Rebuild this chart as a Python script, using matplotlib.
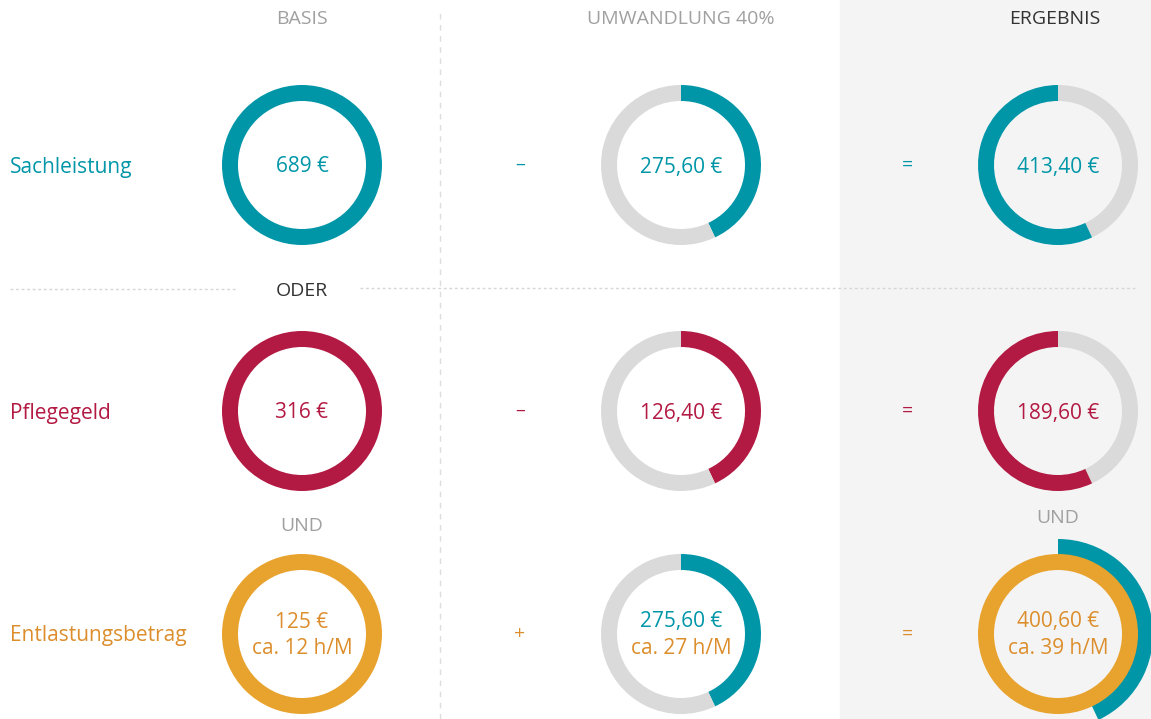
import matplotlib
matplotlib.use("Agg")
import matplotlib.pyplot as plt
from matplotlib.patches import Rectangle

# --- data ---------------------------------------------------------------
row_labels = ["Sachleistung", "Pflegegeld", "Entlastungsbetrag"]
col_headers = ["BASIS", "UMWANDLUNG 40%", "ERGEBNIS"]
basis_text = ["689 €", "316 €", "125 €"]
umwandlung_text = ["275,60 €", "126,40 €", "275,60 €"]
ergebnis_text = ["413,40 €", "189,60 €", "400,60 €"]
hours_text = ["ca. 12 h/M", "ca. 27 h/M", "ca. 39 h/M"]
operators = ["–", "–", "+"]
# share of the ring drawn as "converted" (as it appears in the chart)
converted_share = [0.43, 0.43, 0.43]

TEAL = "#0096A8"
RED = "#B31A43"
ORANGE = "#E8A32E"
ORANGE_TXT = "#DC8E2C"
RING_GRAY = "#DADADA"
row_colors = [TEAL, RED, ORANGE]
text_colors = [TEAL, RED, ORANGE_TXT]

plt.rcParams["font.family"] = ["Open Sans", "DejaVu Sans"]

W, H = 1151, 719
fig = plt.figure(figsize=(W / 100, H / 100), dpi=100)
ax = fig.add_axes([0, 0, 1, 1])

col_x = [302, 681, 1058]
row_y = [H - 165, H - 411, H - 634]
R, RW = 80, 16
VAL_FS = 15
HEAD_FS = 14
DY = -2  # small nudge so text sits optically centred

# right panel background + separators
ax.add_patch(Rectangle((840, 0), W - 840, H, color="#F4F4F4", zorder=0))
ax.plot([440, 440], [0, H - 8], ls=(0, (4, 4)), color="#DDDDDD", lw=1, zorder=1)
ax.plot([10, 235], [H - 289, H - 289], ls=(0, (2, 2)), color="#D6D6D6", lw=1, zorder=1)
ax.plot([360, 1135], [H - 288, H - 288], ls=(0, (2, 2)), color="#D6D6D6", lw=1, zorder=1)

for j, t in enumerate(col_headers):
    ax.text(col_x[j] if j < 2 else 1055, H - 19, t, ha="center", va="center",
            fontsize=HEAD_FS, color="#333333" if j == 2 else "#A0A0A0")
ax.text(302, H - 291, "ODER", ha="center", va="center", fontsize=HEAD_FS, color="#333333")
ax.text(302, H - 526, "UND", ha="center", va="center", fontsize=HEAD_FS, color="#A0A0A0")
ax.text(1058, H - 518, "UND", ha="center", va="center", fontsize=HEAD_FS, color="#A0A0A0")

wp = dict(width=RW, linewidth=0)
for i in range(3):
    y = row_y[i]
    c = row_colors[i]
    tc = text_colors[i]
    s = converted_share[i]
    ax.text(10, y + DY, row_labels[i], ha="left", va="center", fontsize=15, color=tc)
    ax.text(520, y, operators[i], ha="center", va="center", fontsize=14, color=tc)
    ax.text(907, y, "=", ha="center", va="center", fontsize=14, color=tc)

    # basis ring
    ax.pie([1], colors=[c], center=(col_x[0], y), radius=R, wedgeprops=wp)

    if i < 2:
        ax.pie([s, 1 - s], colors=[c, RING_GRAY], center=(col_x[1], y), radius=R,
               startangle=90, counterclock=False, wedgeprops=wp)
        ax.pie([s, 1 - s], colors=[RING_GRAY, c], center=(col_x[2], y), radius=R,
               startangle=90, counterclock=False, wedgeprops=wp)
        for x, t in zip(col_x, [basis_text[i], umwandlung_text[i], ergebnis_text[i]]):
            ax.text(x, y + DY, t, ha="center", va="center", fontsize=VAL_FS, color=tc)
    else:
        ax.pie([s, 1 - s], colors=[TEAL, RING_GRAY], center=(col_x[1], y), radius=R,
               startangle=90, counterclock=False, wedgeprops=wp)
        # outer teal arc behind the orange result ring
        ax.pie([s, 1 - s], colors=[TEAL, "none"], center=(col_x[2], y), radius=R + 15,
               startangle=90, counterclock=False, wedgeprops=dict(width=20, linewidth=0))
        ax.pie([1], colors=[ORANGE], center=(col_x[2], y), radius=R, wedgeprops=wp)

        top = [basis_text[i], umwandlung_text[i], ergebnis_text[i]]
        top_colors = [tc, TEAL, tc]
        for x, t, tcol, h in zip(col_x, top, top_colors, hours_text):
            ax.text(x, y + 12, t, ha="center", va="center", fontsize=VAL_FS, color=tcol)
            ax.text(x, y - 15, h, ha="center", va="center", fontsize=VAL_FS, color=tc)

ax.set_xlim(0, W)
ax.set_ylim(0, H)
ax.set_aspect("auto")
ax.axis("off")

fig.savefig("out.png", dpi=100)
